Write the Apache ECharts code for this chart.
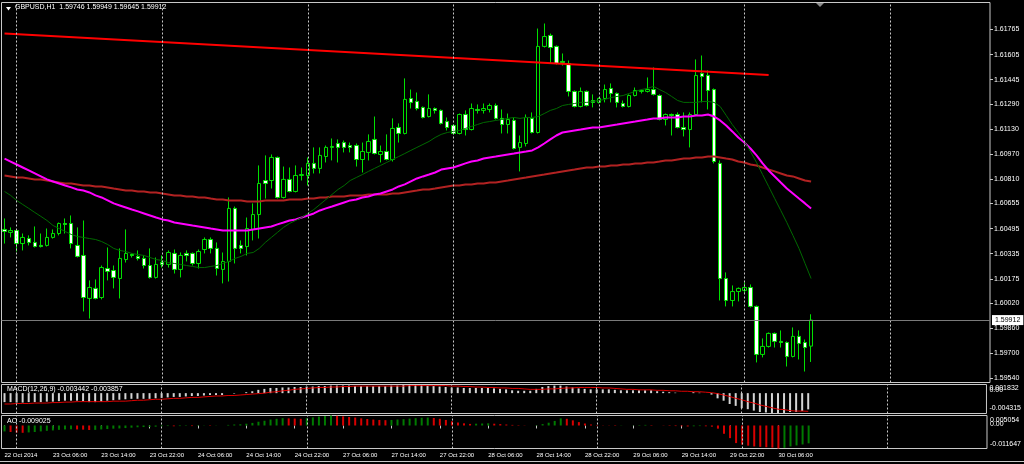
<!DOCTYPE html>
<html><head><meta charset="utf-8">
<script src="https://cdn.jsdelivr.net/npm/echarts@6/dist/echarts.min.js"></script>
<style>html,body{margin:0;padding:0;background:#000;}#c{width:1024px;height:464px;}</style>
</head><body><div id="c"></div>
<script>
const symbolName = 'GBPUSD,H1';
const timeLabels = ['22 Oct 2014','23 Oct 06:00','23 Oct 14:00','23 Oct 22:00','24 Oct 06:00','24 Oct 14:00','24 Oct 22:00','27 Oct 06:00','27 Oct 14:00','27 Oct 22:00','28 Oct 06:00','28 Oct 14:00','28 Oct 22:00','29 Oct 06:00','29 Oct 14:00','29 Oct 22:00','30 Oct 06:00'];
const gridLineBars = [2,26,50,74,98,122,146];
const priceTicks = [1.61765,1.61605,1.61445,1.61290,1.61130,1.60970,1.60810,1.60655,1.60495,1.60335,1.60175,1.60020,1.59860,1.59700,1.59540];

const opens = [1.60490,1.60471,1.60483,1.60400,1.60432,1.60407,1.60388,1.60388,1.60439,1.60464,
1.60528,1.60528,1.60388,1.60324,1.60050,1.60114,1.60056,1.60241,1.60228,1.60177,
1.60298,1.60330,1.60318,1.60305,1.60260,1.60184,1.60279,1.60267,1.60337,1.60235,
1.60337,1.60337,1.60273,1.60362,1.60426,1.60369,1.60235,1.60286,1.60624,1.60388,
1.60381,1.60490,1.60585,1.60802,1.60802,1.60949,1.60694,1.60809,1.60732,1.60834,
1.60834,1.60911,1.60879,1.60955,1.61013,1.61038,1.61044,1.61025,1.61025,1.60936,
1.60981,1.61064,1.60968,1.60987,1.60936,1.61140,1.61102,1.61325,1.61306,1.61268,
1.61210,1.61261,1.61249,1.61178,1.61153,1.61102,1.61223,1.61127,1.61255,1.61249,
1.61255,1.61280,1.61198,1.61159,1.61185,1.61013,1.61038,1.61198,1.61108,1.61657,
1.61727,1.61657,1.61561,1.61548,1.61370,1.61274,1.61370,1.61312,1.61300,1.61325,
1.61389,1.61357,1.61293,1.61274,1.61344,1.61370,1.61370,1.61382,1.61344,1.61191,
1.61223,1.61223,1.61140,1.61127,1.61223,1.61484,1.61472,1.61382,1.60911,1.60177,
1.60037,1.60094,1.60101,1.60120,1.59999,1.59693,1.59744,1.59827,1.59776,1.59769,
1.59680,1.59808,1.59769,1.59746];
const highs = [1.60560,1.60503,1.60490,1.60464,1.60452,1.60509,1.60464,1.60496,1.60490,1.60534,
1.60560,1.60579,1.60503,1.60547,1.60165,1.60171,1.60260,1.60375,1.60260,1.60369,
1.60490,1.60337,1.60356,1.60324,1.60369,1.60311,1.60324,1.60356,1.60362,1.60343,
1.60356,1.60343,1.60362,1.60439,1.60439,1.60407,1.60343,1.60694,1.60636,1.60420,
1.60566,1.60656,1.60898,1.60962,1.60968,1.60955,1.60891,1.60885,1.60898,1.60885,
1.60949,1.61013,1.61013,1.61025,1.61070,1.61064,1.61057,1.61044,1.61038,1.61044,
1.61096,1.61210,1.61025,1.61096,1.61198,1.61166,1.61453,1.61382,1.61363,1.61274,
1.61351,1.61268,1.61255,1.61204,1.61159,1.61229,1.61249,1.61293,1.61287,1.61293,
1.61293,1.61293,1.61255,1.61229,1.61204,1.61089,1.61223,1.61236,1.61771,1.61803,
1.61739,1.61663,1.61612,1.61567,1.61376,1.61395,1.61376,1.61351,1.61331,1.61414,
1.61421,1.61363,1.61312,1.61351,1.61395,1.61382,1.61459,1.61523,1.61351,1.61229,
1.61229,1.61236,1.61236,1.61236,1.61574,1.61599,1.61504,1.61389,1.60930,1.60216,
1.60133,1.60120,1.60152,1.60139,1.60005,1.59795,1.59833,1.59833,1.59846,1.59776,
1.59865,1.59846,1.59788,1.59949];
const lows = [1.60400,1.60439,1.60349,1.60356,1.60388,1.60375,1.60375,1.60381,1.60432,1.60452,
1.60464,1.60369,1.60311,1.59967,1.59922,1.60044,1.60044,1.60165,1.60114,1.60050,
1.60279,1.60311,1.60292,1.60241,1.60177,1.60177,1.60247,1.60247,1.60209,1.60184,
1.60286,1.60260,1.60241,1.60337,1.60337,1.60196,1.60146,1.60158,1.60273,1.60337,
1.60324,1.60420,1.60432,1.60687,1.60751,1.60687,1.60687,1.60726,1.60726,1.60802,
1.60770,1.60847,1.60847,1.60917,1.60930,1.60917,1.60981,1.60981,1.60891,1.60853,
1.60930,1.60968,1.60917,1.60930,1.60923,1.61044,1.61096,1.61261,1.61249,1.61198,
1.61204,1.61229,1.61159,1.61121,1.61096,1.61096,1.61089,1.61121,1.61229,1.61229,
1.61236,1.61191,1.61102,1.61102,1.61000,1.60860,1.61019,1.61102,1.61102,1.61650,
1.61548,1.61542,1.61535,1.61338,1.61268,1.61268,1.61274,1.61268,1.61293,1.61300,
1.61300,1.61268,1.61268,1.61268,1.61338,1.61357,1.61363,1.61344,1.61185,1.61153,
1.61089,1.61134,1.61083,1.61013,1.61217,1.61300,1.61255,1.60911,1.60037,1.59999,
1.59999,1.60031,1.60082,1.59992,1.59642,1.59674,1.59737,1.59737,1.59737,1.59616,
1.59674,1.59661,1.59584,1.59645];
const closes = [1.60477,1.60483,1.60400,1.60439,1.60407,1.60381,1.60381,1.60439,1.60464,1.60528,
1.60522,1.60400,1.60318,1.60056,1.60120,1.60050,1.60247,1.60222,1.60184,1.60305,
1.60337,1.60324,1.60305,1.60260,1.60184,1.60267,1.60267,1.60343,1.60235,1.60324,
1.60324,1.60273,1.60349,1.60426,1.60369,1.60241,1.60286,1.60624,1.60369,1.60369,
1.60496,1.60585,1.60783,1.60783,1.60949,1.60694,1.60809,1.60732,1.60834,1.60840,
1.60911,1.60879,1.60962,1.61013,1.61019,1.61013,1.61013,1.61013,1.60936,1.60987,
1.61051,1.60974,1.60987,1.60936,1.61134,1.61102,1.61319,1.61300,1.61261,1.61204,
1.61261,1.61249,1.61166,1.61140,1.61102,1.61223,1.61127,1.61261,1.61249,1.61261,
1.61280,1.61198,1.61159,1.61191,1.61006,1.61044,1.61204,1.61108,1.61657,1.61720,
1.61650,1.61548,1.61555,1.61370,1.61274,1.61370,1.61280,1.61300,1.61325,1.61382,
1.61357,1.61300,1.61274,1.61344,1.61376,1.61376,1.61382,1.61351,1.61191,1.61223,
1.61217,1.61140,1.61127,1.61223,1.61472,1.61465,1.61376,1.60923,1.60177,1.60037,
1.60094,1.60114,1.60120,1.59999,1.59693,1.59744,1.59827,1.59776,1.59769,1.59680,
1.59808,1.59763,1.59737,1.59912];

const ma20 = [1.60732,1.60707,1.60675,1.60649,1.60624,1.60598,1.60573,1.60547,1.60515,1.60496,
1.60477,1.60458,1.60445,1.60439,1.60432,1.60426,1.60413,1.60394,1.60369,1.60356,
1.60349,1.60337,1.60330,1.60324,1.60311,1.60298,1.60292,1.60279,1.60273,1.60267,
1.60260,1.60254,1.60247,1.60247,1.60254,1.60260,1.60273,1.60286,1.60305,1.60318,
1.60337,1.60343,1.60369,1.60407,1.60439,1.60471,1.60503,1.60528,1.60547,1.60566,
1.60592,1.60617,1.60649,1.60681,1.60713,1.60745,1.60770,1.60802,1.60821,1.60840,
1.60860,1.60879,1.60898,1.60917,1.60936,1.60955,1.60974,1.60994,1.61013,1.61032,
1.61051,1.61076,1.61096,1.61108,1.61115,1.61121,1.61134,1.61147,1.61159,1.61172,
1.61178,1.61185,1.61191,1.61198,1.61204,1.61198,1.61204,1.61204,1.61210,1.61229,
1.61249,1.61261,1.61280,1.61287,1.61293,1.61300,1.61300,1.61306,1.61312,1.61319,
1.61331,1.61338,1.61344,1.61357,1.61370,1.61382,1.61389,1.61402,1.61382,1.61363,
1.61338,1.61312,1.61300,1.61300,1.61300,1.61306,1.61306,1.61300,1.61274,1.61217,
1.61159,1.61108,1.61051,1.60987,1.60917,1.60840,1.60764,1.60687,1.60611,1.60534,
1.60452,1.60369,1.60273,1.60177];
const ma50 = [1.60942,1.60923,1.60904,1.60885,1.60866,1.60847,1.60828,1.60809,1.60796,1.60783,
1.60770,1.60758,1.60745,1.60738,1.60726,1.60707,1.60694,1.60675,1.60656,1.60643,
1.60630,1.60617,1.60605,1.60592,1.60579,1.60566,1.60554,1.60547,1.60534,1.60528,
1.60522,1.60515,1.60509,1.60503,1.60496,1.60490,1.60483,1.60483,1.60483,1.60483,
1.60483,1.60490,1.60496,1.60503,1.60509,1.60522,1.60534,1.60547,1.60554,1.60566,
1.60579,1.60592,1.60611,1.60624,1.60636,1.60649,1.60662,1.60675,1.60681,1.60694,
1.60700,1.60713,1.60719,1.60732,1.60745,1.60764,1.60777,1.60796,1.60815,1.60828,
1.60840,1.60853,1.60872,1.60879,1.60885,1.60898,1.60911,1.60923,1.60930,1.60942,
1.60949,1.60955,1.60962,1.60968,1.60974,1.60981,1.60987,1.60994,1.61013,1.61038,
1.61064,1.61089,1.61108,1.61115,1.61121,1.61127,1.61134,1.61140,1.61140,1.61147,
1.61153,1.61159,1.61166,1.61172,1.61178,1.61185,1.61191,1.61198,1.61198,1.61204,
1.61204,1.61204,1.61210,1.61210,1.61217,1.61217,1.61223,1.61210,1.61185,1.61153,
1.61115,1.61076,1.61044,1.61006,1.60962,1.60911,1.60866,1.60828,1.60789,1.60751,
1.60719,1.60687,1.60656,1.60624];
const ma200 = [1.60834,1.60828,1.60821,1.60821,1.60815,1.60809,1.60809,1.60802,1.60796,1.60789,
1.60783,1.60783,1.60777,1.60770,1.60770,1.60764,1.60764,1.60758,1.60751,1.60745,
1.60738,1.60738,1.60732,1.60732,1.60726,1.60726,1.60719,1.60713,1.60707,1.60707,
1.60700,1.60700,1.60694,1.60694,1.60687,1.60681,1.60681,1.60675,1.60675,1.60675,
1.60668,1.60668,1.60668,1.60675,1.60675,1.60675,1.60675,1.60681,1.60681,1.60681,
1.60687,1.60687,1.60694,1.60694,1.60700,1.60700,1.60700,1.60707,1.60707,1.60707,
1.60713,1.60713,1.60713,1.60713,1.60719,1.60719,1.60726,1.60732,1.60738,1.60745,
1.60745,1.60751,1.60758,1.60764,1.60770,1.60770,1.60777,1.60777,1.60783,1.60783,
1.60789,1.60789,1.60796,1.60802,1.60809,1.60815,1.60821,1.60828,1.60834,1.60840,
1.60847,1.60853,1.60860,1.60866,1.60872,1.60879,1.60885,1.60885,1.60891,1.60891,
1.60898,1.60898,1.60904,1.60904,1.60911,1.60911,1.60917,1.60917,1.60923,1.60930,
1.60930,1.60936,1.60942,1.60942,1.60949,1.60949,1.60955,1.60955,1.60949,1.60942,
1.60936,1.60923,1.60917,1.60904,1.60898,1.60885,1.60872,1.60860,1.60847,1.60834,
1.60828,1.60815,1.60802,1.60796];
const trendLine = [[0, 1.61739], [126, 1.61475]];

const macdMain = [-0.0019,-0.0019,-0.0020,-0.0020,-0.0019,-0.0019,-0.0019,-0.0018,-0.0018,-0.0017,
-0.0016,-0.0016,-0.0016,-0.0017,-0.0019,-0.0019,-0.0018,-0.0016,-0.0015,-0.0014,
-0.0013,-0.0012,-0.0012,-0.0012,-0.0012,-0.0011,-0.0010,-0.0009,-0.0008,-0.0008,
-0.0007,-0.0006,-0.0006,-0.0005,-0.0004,-0.0004,-0.0004,0.0000,-0.0001,0.0000,
0.0002,0.0004,0.0007,0.0009,0.0011,0.0011,0.0012,0.0012,0.0013,0.0013,
0.0014,0.0014,0.0015,0.0015,0.0016,0.0016,0.0016,0.0016,0.0015,0.0015,
0.0015,0.0015,0.0015,0.0015,0.0016,0.0016,0.0018,0.001832,0.0018,0.0017,
0.0016,0.0015,0.0014,0.0013,0.0012,0.0012,0.0011,0.0011,0.0011,0.0011,
0.0011,0.0010,0.0009,0.0008,0.0006,0.0005,0.0005,0.0005,0.0009,0.0013,
0.0015,0.0016,0.0016,0.0014,0.0012,0.0010,0.0009,0.0008,0.0008,0.0008,
0.0008,0.0007,0.0006,0.0006,0.0006,0.0006,0.0006,0.0006,0.0004,0.0003,
0.0002,0.0001,0.0000,0.0000,0.0002,0.0001,0.0000,-0.0003,-0.0011,-0.0016,
-0.0023,-0.0027,-0.0032,-0.0034,-0.0037,-0.0040,-0.0041,-0.0042,-0.004315,-0.0042,
-0.0040,-0.0040,-0.0038,-0.003442];
const macdSignal = [-0.0023,-0.0023,-0.0022,-0.0022,-0.0022,-0.0021,-0.0021,-0.0021,-0.0020,-0.0020,
-0.0019,-0.0019,-0.0018,-0.0018,-0.0018,-0.0018,-0.0018,-0.0018,-0.0017,-0.0017,
-0.0017,-0.0016,-0.0015,-0.0015,-0.0014,-0.0013,-0.0013,-0.0012,-0.0011,-0.0011,
-0.0010,-0.0009,-0.0009,-0.0008,-0.0007,-0.0006,-0.0006,-0.0005,-0.0005,-0.0004,
-0.0003,-0.0002,-0.0001,0.0000,0.0002,0.0003,0.0005,0.0006,0.0008,0.0009,
0.0010,0.0011,0.0012,0.0012,0.0013,0.0013,0.0014,0.0014,0.0015,0.0015,
0.0015,0.0015,0.0015,0.0015,0.0015,0.0015,0.0015,0.0016,0.0016,0.0016,
0.0016,0.0016,0.0016,0.0016,0.0015,0.0015,0.0014,0.0014,0.0013,0.0013,
0.0012,0.0012,0.0011,0.0011,0.0010,0.0010,0.0009,0.0008,0.0008,0.0008,
0.0009,0.0009,0.0010,0.0011,0.0011,0.0012,0.0012,0.0012,0.0012,0.0011,
0.0011,0.0010,0.0009,0.0008,0.0008,0.0007,0.0007,0.0007,0.0006,0.0006,
0.0005,0.0005,0.0004,0.0004,0.0003,0.0003,0.0002,0.0001,-0.0001,-0.0004,
-0.0007,-0.0011,-0.0014,-0.0018,-0.0021,-0.0025,-0.0028,-0.0031,-0.0034,-0.0035,
-0.0037,-0.0038,-0.0038,-0.003857];
const aoValues = [-0.0030,-0.0033,-0.0036,-0.0037,-0.0035,-0.0033,-0.0030,-0.0027,-0.0025,-0.0022,
-0.0020,-0.0019,-0.0020,-0.0021,-0.0023,-0.0022,-0.0020,-0.0018,-0.0016,-0.0015,
-0.0013,-0.0011,-0.0009,-0.0008,-0.0007,-0.0006,-0.0004,-0.0003,-0.0004,-0.0003,
-0.0002,-0.0003,-0.0002,-0.0001,-0.0002,-0.0001,0.0000,0.0003,0.0005,0.0006,
0.0009,0.0013,0.0019,0.0024,0.0030,0.0034,0.0037,0.0036,0.0035,0.0034,
0.0037,0.0041,0.0045,0.0048,0.005054,0.0049,0.0046,0.0043,0.0040,0.0036,
0.0033,0.0030,0.0028,0.0027,0.0028,0.0030,0.0032,0.0035,0.0037,0.0039,
0.0040,0.0038,0.0034,0.0028,0.0021,0.0015,0.0011,0.0008,0.0009,0.0010,
0.0011,0.0009,0.0007,0.0005,0.0003,0.0002,0.0001,0.0000,0.0002,0.0007,
0.0014,0.0023,0.0036,0.0034,0.0026,0.0017,0.0010,0.0005,0.0002,0.0001,
-0.0001,-0.0002,-0.0001,0.0000,0.0001,0.0002,0.0003,0.0002,0.0000,-0.0001,
-0.0002,-0.0003,-0.0004,-0.0005,-0.0004,-0.0003,-0.0004,-0.0006,-0.0016,-0.0042,
-0.0064,-0.0089,-0.0097,-0.0102,-0.0106,-0.0108,-0.0110,-0.0112,-0.011647,-0.0113,
-0.0106,-0.0101,-0.0096,-0.009025];

const macdRange = [-0.004315, 0.001832];
const aoRange = [-0.011647, 0.005054];
const priceRange = [1.59514, 1.61937];

const SLOTS = 163;
const FONT = 'Liberation Sans, Arial, sans-serif';
const BULL_FILL = '#000000', BEAR_FILL = '#ffffff', CANDLE_LINE = '#00e000';
const FRAME = '#c8c8c8';

const cats = Array.from({length: SLOTS}, (_, i) => String(i));
const last = opens.length - 1;
const candleData = opens.map((o, i) => [o, closes[i], lows[i], highs[i]]);

let up = true;
const aoData = aoValues.map((v, i) => {
  if (i > 0) { if (v > aoValues[i-1]) up = true; else if (v < aoValues[i-1]) up = false; }
  return { value: v, itemStyle: { color: up ? '#007a00' : '#d80000' } };
});

const gridMarks = gridLineBars.map(i => ({ xAxis: i }));
const dashStyle = { color: '#c8c8c8', type: [2, 2], width: 1 };
function gridMarkLine() {
  return { silent: true, symbol: ['none','none'], animation: false, label: { show: false },
    lineStyle: dashStyle, data: gridMarks };
}

const labelIdx = (idx) => idx % 8 === 0 && idx / 8 < timeLabels.length;

// two right-side axes per indicator panel: extremes, and the zero line label
function indAxes(gi, range, pads) {
  const [mn, mx] = range;
  const base = { fontSize: 7, color: '#ffffff', fontFamily: FONT };
  const common = { type: 'value', gridIndex: gi, position: 'right', min: mn, max: mx,
    splitLine: { show: false }, axisLine: { show: false }, axisTick: { show: false } };
  return [
    Object.assign({}, common, { axisLabel: {
      customValues: [mx, mn], margin: 3, align: 'left', showMaxLabel: true, showMinLabel: true,
      formatter: v => v > 0 ? '{a|' + mx.toFixed(6) + '}' : '{c|' + mn.toFixed(6) + '}',
      rich: {
        a: Object.assign({ padding: [pads[0], 0, 0, 0] }, base),
        c: Object.assign({ padding: [0, 0, pads[2], 0] }, base)
      } } }),
    Object.assign({}, common, { axisLabel: {
      customValues: [0], margin: 3, align: 'left', showMaxLabel: true, showMinLabel: true,
      formatter: () => '{b|0.00}',
      rich: { b: Object.assign({ padding: [0, 0, pads[1], 0] }, base) } } })
  ];
}

const chart = echarts.init(document.getElementById('c'), null, { renderer: 'canvas' });
const txt = { color: '#ffffff', fontSize: 7, fontWeight: 'normal', fontFamily: FONT };
chart.setOption({
  backgroundColor: '#000000',
  animation: false,
  title: [
    { text: symbolName + '  ' + [opens[last], highs[last], lows[last], closes[last]].map(v => v.toFixed(5)).join(' '),
      left: 15, top: 4, padding: 0, textStyle: txt },
    { text: 'MACD(12,26,9) ' + macdMain[last].toFixed(6) + ' ' + macdSignal[last].toFixed(6),
      left: 7, top: 386, padding: 0, textStyle: txt },
    { text: 'AO ' + aoValues[last].toFixed(6), left: 7, top: 418, padding: 0, textStyle: txt }
  ],
  grid: [
    { left: 1.5, top: 2.5, width: 988.5, height: 380, show: true, borderColor: FRAME, borderWidth: 1, backgroundColor: 'transparent' },
    { left: 1.5, top: 384.5, width: 988.5, height: 29, show: true, borderColor: FRAME, borderWidth: 1, backgroundColor: 'transparent' },
    { left: 1.5, top: 415.5, width: 988.5, height: 33, show: true, borderColor: FRAME, borderWidth: 1, backgroundColor: 'transparent' }
  ],
  xAxis: [
    { type: 'category', gridIndex: 0, data: cats, boundaryGap: true, show: false },
    { type: 'category', gridIndex: 1, data: cats, boundaryGap: true, show: false },
    { type: 'category', gridIndex: 2, data: cats, boundaryGap: true,
      axisLine: { show: false },
      axisTick: { show: true, alignWithLabel: true, interval: labelIdx, length: 3, lineStyle: { color: FRAME } },
      axisLabel: { interval: labelIdx, formatter: (v, idx) => timeLabels[idx / 8], align: 'left',
        color: '#ffffff', fontSize: 6, fontFamily: FONT, margin: 4 },
      splitLine: { show: false } }
  ],
  yAxis: [
    { type: 'value', gridIndex: 0, position: 'right', min: priceRange[0], max: priceRange[1],
      splitLine: { show: false }, axisLine: { show: false },
      axisTick: { show: true, length: 3, customValues: priceTicks, lineStyle: { color: FRAME } },
      axisLabel: { customValues: priceTicks, formatter: v => v.toFixed(5), color: '#ffffff', fontSize: 7, fontFamily: FONT, margin: 4 } }
  ].concat(indAxes(1, macdRange, [8, 6, 10]), indAxes(2, aoRange, [10, 2, 8])),
  series: [
    { type: 'candlestick', xAxisIndex: 0, yAxisIndex: 0, data: candleData, barWidth: 4, z: 2,
      itemStyle: { color: BULL_FILL, color0: BEAR_FILL, borderColor: CANDLE_LINE, borderColor0: CANDLE_LINE, borderWidth: 1 },
      markLine: gridMarkLine() },
    { type: 'line', xAxisIndex: 0, yAxisIndex: 0, data: ma200, symbol: 'none', z: 3,
      lineStyle: { color: '#b22222', width: 2 } },
    { type: 'line', xAxisIndex: 0, yAxisIndex: 0, data: ma50, symbol: 'none', z: 3,
      lineStyle: { color: '#ff00ff', width: 2 } },
    { type: 'line', xAxisIndex: 0, yAxisIndex: 0, data: ma20, symbol: 'none', z: 3,
      lineStyle: { color: '#006a00', width: 1 },
      markLine: { silent: true, symbol: ['none', 'none'], animation: false, precision: 5,
        data: [{ yAxis: closes[last] }],
        lineStyle: { type: 'solid', color: '#7a7a7a', width: 1 },
        label: { show: true, position: 'end', distance: 2, formatter: () => closes[last].toFixed(5),
          backgroundColor: '#ffffff', color: '#000000', fontSize: 7, fontFamily: FONT, padding: [2, 3, 1, 3] } } },
    { type: 'line', xAxisIndex: 0, yAxisIndex: 0, data: trendLine, symbol: 'none', z: 4,
      lineStyle: { color: '#ff0000', width: 2 } },
    { type: 'bar', xAxisIndex: 1, yAxisIndex: 1, data: macdMain, barWidth: 2,
      itemStyle: { color: '#d4d4d4' }, markLine: gridMarkLine() },
    { type: 'line', xAxisIndex: 1, yAxisIndex: 1, data: macdSignal, symbol: 'none', z: 3,
      lineStyle: { color: '#e00000', width: 1 } },
    { type: 'bar', xAxisIndex: 2, yAxisIndex: 3, data: aoData, barWidth: 2, markLine: gridMarkLine() }
  ],
  graphic: [
    { type: 'polygon', shape: { points: [[6, 7], [11, 7], [8.5, 10.5]] }, style: { fill: '#ffffff' }, silent: true },
    { type: 'polygon', shape: { points: [[816, 3], [824, 3], [820, 7]] }, style: { fill: '#8a8a8a' }, silent: true },
    { type: 'line', shape: { x1: 0, y1: 461.5, x2: 1024, y2: 461.5 }, style: { stroke: '#c8c8c8', lineWidth: 1 }, silent: true }
  ]
});
</script></body></html>
